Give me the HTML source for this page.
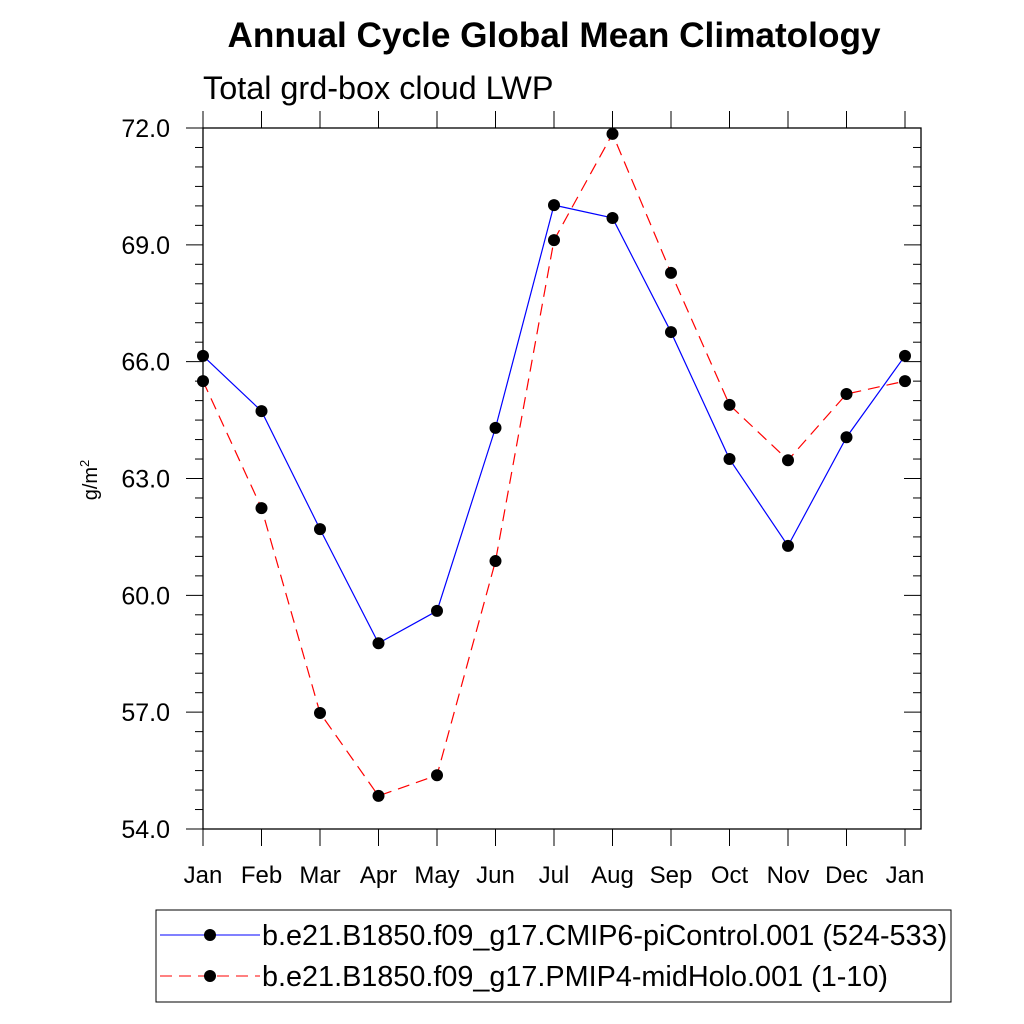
<!DOCTYPE html>
<html><head><meta charset="utf-8"><style>body{margin:0;background:#fff}svg{display:block;font-family:"Liberation Sans",sans-serif}</style></head>
<body>
<svg id="c" width="1024" height="1024" xmlns="http://www.w3.org/2000/svg">
<text x="554" y="47" text-anchor="middle" font-size="35.2" font-weight="bold">Annual Cycle Global Mean Climatology</text>
<text x="203" y="99" font-size="32.4">Total grd-box cloud LWP</text>
<text transform="translate(97,480) rotate(-90)" text-anchor="middle" font-size="20">g/m<tspan dy="-8" font-size="13">2</tspan></text>
<g id="axes"></g><g id="series"></g>
<g>
<rect x="156" y="910" width="795" height="92" fill="none" stroke="#000" stroke-width="1"/>
<line x1="160" y1="935" x2="260" y2="935" stroke="#0000ff" stroke-width="1"/>
<circle cx="210" cy="935" r="6" fill="#000"/>
<text x="262" y="945" font-size="28.8">b.e21.B1850.f09_g17.CMIP6-piControl.001 (524-533)</text>
<line x1="160" y1="976" x2="260" y2="976" stroke="#ff0000" stroke-width="1" stroke-dasharray="12,7"/>
<circle cx="210" cy="976" r="6" fill="#000"/>
<text x="262" y="986" font-size="28.8">b.e21.B1850.f09_g17.PMIP4-midHolo.001 (1-10)</text>
</g>
</svg>
<script>
const months=["Jan","Feb","Mar","Apr","May","Jun","Jul","Aug","Sep","Oct","Nov","Dec","Jan"];
const piControl=[66.15,64.73,61.70,58.77,59.60,64.30,70.02,69.69,66.76,63.50,61.27,64.06,66.15];
const midHolo=[65.50,62.24,56.98,54.85,55.38,60.88,69.12,71.85,68.28,64.89,63.47,65.17,65.50];
const yTicks=["54.0","57.0","60.0","63.0","66.0","69.0","72.0"];
const NS="http://www.w3.org/2000/svg";
const L=203,R=921,T=128,B=829,ymin=54,ymax=72;
const xs=i=>L+i*58.5, ys=v=>B-(v-ymin)/(ymax-ymin)*(B-T);
const ax=document.getElementById('axes'),sr=document.getElementById('series');
function mk(p,tag,a){const e=document.createElementNS(NS,tag);for(const k in a)e.setAttribute(k,a[k]);p.appendChild(e);return e;}
const frame=mk(ax,'rect',{x:L,y:T,width:R-L,height:B-T,fill:'none',stroke:'#000','stroke-width':1.3});


months.forEach((m,i)=>{const x=xs(i);
mk(ax,'line',{x1:x,y1:B,x2:x,y2:B+17,stroke:'#000'});
mk(ax,'line',{x1:x,y1:T,x2:x,y2:T-17,stroke:'#000'});
const t=mk(ax,'text',{x:x,y:883,'text-anchor':'middle','font-size':24});t.textContent=m;

});
for(let v=ymin;v<=ymax+1e-9;v+=0.5){const y=ys(v),maj=Math.abs(v%3)<1e-6,len=maj?17:8;
mk(ax,'line',{x1:L-len,y1:y,x2:L,y2:y,stroke:'#000'});
mk(ax,'line',{x1:R-len,y1:y,x2:R,y2:y,stroke:'#000'});}
yTicks.forEach(s=>{const t=mk(ax,'text',{x:170,y:ys(parseFloat(s))+9,'text-anchor':'end','font-size':25});t.textContent=s;

});
function series(d,col,dash,name){
const pl=mk(sr,'polyline',{points:d.map((v,i)=>xs(i)+','+ys(v)).join(' '),fill:'none',stroke:col,'stroke-width':1.2,'stroke-dasharray':dash});


d.forEach((v,i)=>{const c=mk(sr,'circle',{cx:xs(i),cy:ys(v),r:6,fill:'#000'});

});}
series(piControl,'#0000ff','none','picontrol');
series(midHolo,'#ff0000','12,7','midholo');
</script>
</body></html>
